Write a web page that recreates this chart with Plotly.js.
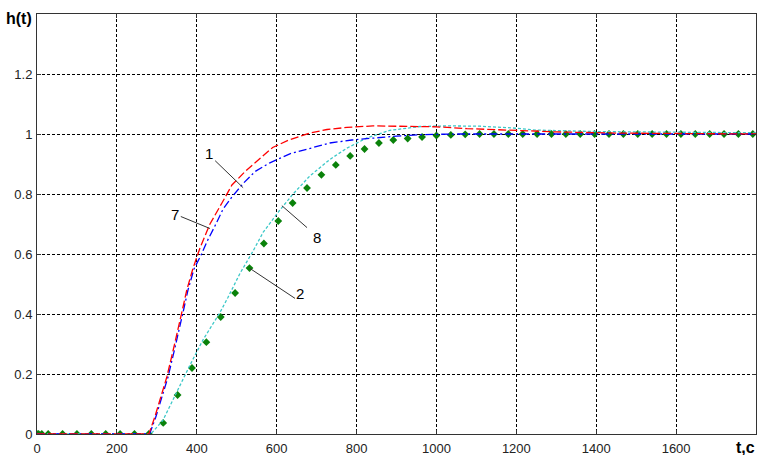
<!DOCTYPE html>
<html>
<head>
<meta charset="utf-8">
<script src="https://cdn.plot.ly/plotly-3.0.1.min.js"></script>
<style>html,body{margin:0;padding:0;background:#fff;}#chart{width:757px;height:455px;}</style>
</head>
<body>
<div id="chart"></div>
<script>
// Curve 1 (red, dashed)
const t1 = [0, 280, 295, 325, 341, 353, 365, 375, 390, 408, 433, 463, 488, 521, 553, 590, 630, 683, 726, 776, 841, 916, 1000, 1076, 1176, 1300, 1450, 1600, 1800];
const h1 = [0, 0, 0.057, 0.19, 0.28, 0.346, 0.42, 0.48, 0.55, 0.62, 0.70, 0.77, 0.83, 0.875, 0.912, 0.955, 0.98, 1.003, 1.015, 1.022, 1.027, 1.026, 1.024, 1.018, 1.013, 1.007, 1.003, 1.001, 1.0];
// Curve 7 (blue, dash-dot)
const t7 = [0, 282, 297, 328, 344, 356, 368, 378, 393, 412, 425, 446, 466, 488, 516, 546, 583, 633, 683, 733, 788, 841, 900, 966, 1050, 1200, 1400, 1600, 1800];
const h7 = [0, 0, 0.055, 0.19, 0.28, 0.345, 0.42, 0.48, 0.55, 0.60, 0.64, 0.695, 0.75, 0.79, 0.835, 0.875, 0.904, 0.934, 0.953, 0.97, 0.98, 0.987, 0.993, 0.998, 1.0, 1.0, 1.0, 1.0, 1.0];
// Curve 8 (cyan, dotted)
const t8 = [0, 285, 315, 353, 385, 416, 458, 478, 508, 541, 566, 603, 641, 683, 733, 776, 826, 883, 959, 1030, 1109, 1192, 1250, 1400, 1600, 1800];
const h8 = [0, 0, 0.045, 0.15, 0.235, 0.315, 0.405, 0.455, 0.535, 0.61, 0.672, 0.738, 0.80, 0.86, 0.915, 0.953, 0.987, 1.012, 1.025, 1.027, 1.026, 1.02, 1.013, 1.008, 1.006, 1.004];
// Curve 2 (green diamonds)
const t2 = [0, 4, 12, 28, 64, 100, 136, 172, 208, 244, 280, 316, 352, 388, 424, 460, 496, 532, 568, 604, 640, 676, 712, 748, 784, 820, 856, 892, 928, 964, 1000, 1036, 1072, 1108, 1144, 1180, 1216, 1252, 1288, 1324, 1360, 1396, 1432, 1468, 1504, 1540, 1576, 1612, 1648, 1684, 1720, 1756, 1792];
const h2 = [0, 0, 0, 0, 0, 0, 0, 0, 0, 0, 0, 0.037, 0.13, 0.22, 0.306, 0.39, 0.47, 0.553, 0.635, 0.71, 0.77, 0.82, 0.864, 0.897, 0.927, 0.95, 0.97, 0.98, 0.985, 0.99, 0.995, 0.997, 0.999, 1.0, 1.0, 1.0, 1.0, 1.0, 1.0, 1.0, 1.0, 1.0, 1.0, 1.0, 1.0, 1.0, 1.0, 1.0, 1.0, 1.0, 1.0, 1.0, 1.0];

const xTicks = [0, 200, 400, 600, 800, 1000, 1200, 1400, 1600];
const yTicks = [0, 0.2, 0.4, 0.6, 0.8, 1, 1.2];
const yTickText = ['0', '0.2', '0.4', '0.6', '0.8', '1', '1.2'];

const curveLabels = ['1', '7', '8', '2'];

const FONT = 'Liberation Sans, Arial, sans-serif';

const traces = [
  {x: t2, y: h2, mode: 'markers', marker: {symbol: 'diamond', size: 6, color: '#0a820a', line: {width: 0}}, name: '2'},
  {x: t8, y: h8, mode: 'lines', line: {color: '#3cc8c8', width: 1.3, dash: '3px,2px'}, name: '8'},
  {x: t7, y: h7, mode: 'lines', line: {color: '#0000ff', width: 1.3, dash: '8px,3px,2px,3px'}, name: '7'},
  {x: t1, y: h1, mode: 'lines', line: {color: '#ff0000', width: 1.3, dash: '8px,3px'}, name: '1'}
];

const axisCommon = {
  showgrid: true, gridcolor: '#000', gridwidth: 1, griddash: '3px,2px',
  showline: true, linecolor: '#333', linewidth: 1, mirror: 'ticks',
  ticks: 'inside', ticklen: 4, tickcolor: '#333',
  zeroline: false, tickfont: {family: FONT, size: 13, color: '#222'}
};

const lbl = (txt, x, y) => ({text: txt, x: x, y: y, xref: 'x', yref: 'y', showarrow: false,
  font: {family: FONT, size: 15, color: '#000'}, xanchor: 'center', yanchor: 'middle'});
const leader = (x0, y0, x1, y1) => ({type: 'line', xref: 'x', yref: 'y', x0: x0, y0: y0, x1: x1, y1: y1,
  line: {color: '#333', width: 1}});

const layout = {
  width: 757, height: 455,
  margin: {l: 37, r: 1, t: 14, b: 21},
  paper_bgcolor: '#fff', plot_bgcolor: '#fff',
  showlegend: false,
  xaxis: Object.assign({}, axisCommon, {range: [0, 1800], tickvals: xTicks, ticklabelstandoff: 2}),
  yaxis: Object.assign({}, axisCommon, {range: [0, 1.4], tickvals: yTicks, ticktext: yTickText, ticklabelstandoff: 1}),
  annotations: [
    lbl(curveLabels[0], 431, 0.934),
    lbl(curveLabels[1], 345, 0.731),
    lbl(curveLabels[2], 701, 0.655),
    lbl(curveLabels[3], 658, 0.469),
    {text: 'h(t)', xref: 'paper', yref: 'paper', x: -0.025, y: 0.99, showarrow: false,
     font: {family: FONT, size: 16, color: '#000', weight: 'bold'}, xanchor: 'center', yanchor: 'middle'},
    {text: 't,c', xref: 'paper', yref: 'paper', x: 0.985, y: -0.031, showarrow: false,
     font: {family: FONT, size: 16, color: '#000', weight: 'bold'}, xanchor: 'center', yanchor: 'middle'}
  ],
  shapes: [
    leader(446, 0.911, 516, 0.821),
    leader(360, 0.725, 433, 0.685),
    leader(613, 0.761, 676, 0.688),
    leader(533, 0.552, 646, 0.452)
  ]
};

Plotly.newPlot('chart', traces, layout, {staticPlot: true, displayModeBar: false});
</script>
</body>
</html>
